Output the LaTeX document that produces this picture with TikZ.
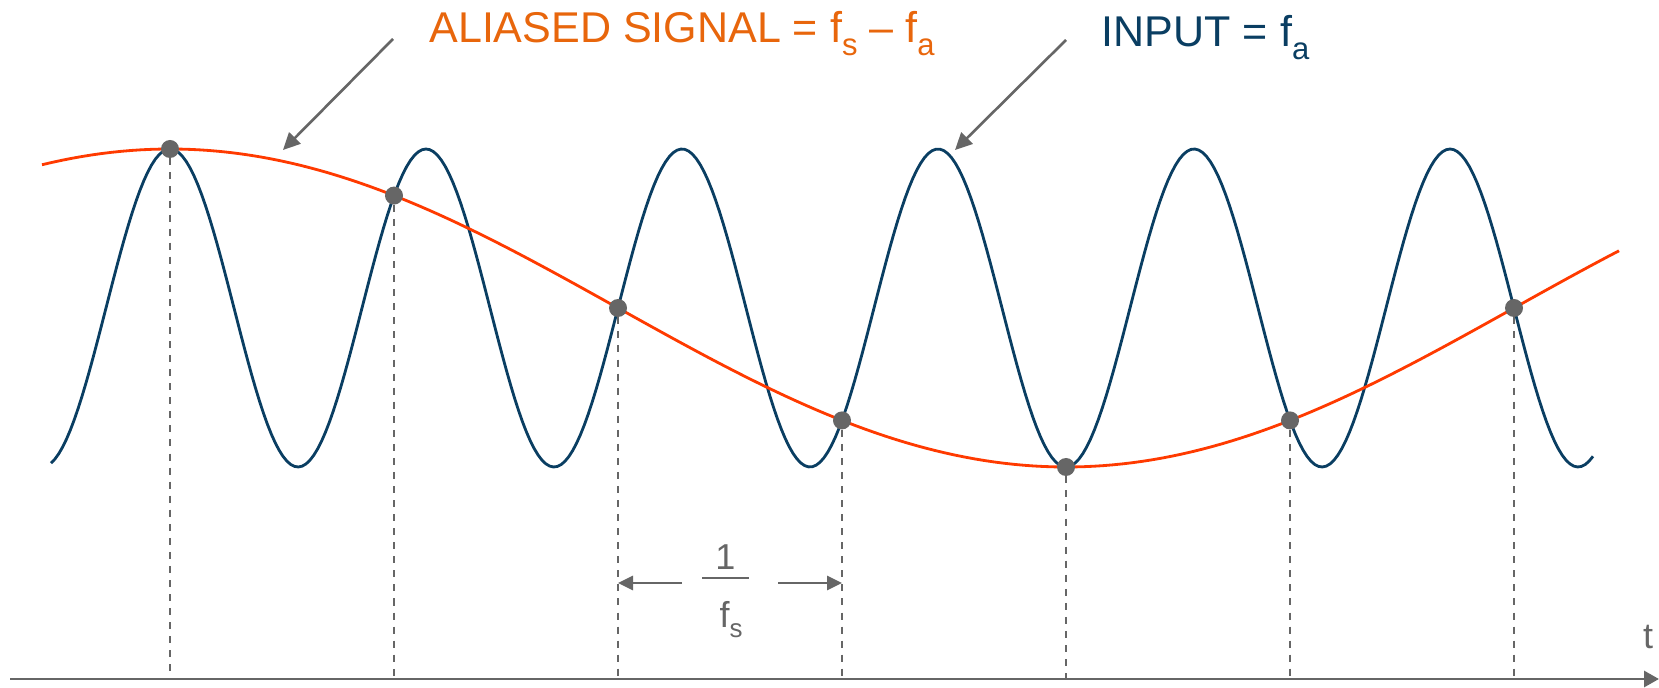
\documentclass[tikz,border=0pt]{standalone}
\usepackage{fontspec}
\setmainfont{Liberation Sans}
\usetikzlibrary{arrows.meta}
\definecolor{aliasorange}{RGB}{232,102,12}
\definecolor{aliasred}{RGB}{255,58,0}
\definecolor{inputblue}{RGB}{10,62,98}
\definecolor{markgray}{RGB}{102,102,102}
\newcommand{\lowsub}[1]{\raisebox{-0.3em}{\scalebox{0.72}{#1}}}

\begin{document}
\begin{tikzpicture}[x=0.02cm, y=-0.02cm,
  font=\fontsize{24.5}{29}\selectfont,
  wave/.style={line width=1.6pt, line join=round},
  guide/.style={markgray, line width=1.2pt, dash pattern=on 4pt off 4pt},
  sample/.style={circle, fill=markgray, inner sep=0pt, minimum size=0.36cm},
  pointer/.style={markgray, line width=1.5pt, -{Triangle[length=0.34cm, width=0.32cm]}},
  span/.style={markgray, line width=1.7pt, -{Triangle[length=0.3cm, width=0.28cm]}},
  small/.style={markgray, inner sep=0pt, font=\fontsize{20.5}{24}\selectfont}]
  \useasboundingbox (0,0) rectangle (1659,688);
  \draw[wave, inputblue] plot[domain=51:1593, samples=400] (\x, {308-159*cos(360*((\x-170)/256))});
  \draw[wave, aliasred] plot[domain=42:1619, samples=160] (\x, {308-159*cos(360*((\x-170)/1792))});
  \coordinate (axstart) at (10,679);
  \coordinate (axend) at (1659,679);
  \foreach \k in {0,...,6} {
    \node[sample] (s\k) at ({170+224*\k}, {308-159*cos(45*\k)}) {};
    \coordinate (b\k) at ({170+224*\k}, 679);
    \draw[guide] (s\k.south) -- (b\k);
  }
  \draw[markgray, line width=1.7pt, -{Triangle[length=0.3cm, width=0.32cm]}] (axstart) -- (axend);
  \node[small, anchor=base] (tlabel) at (1648,648) {t};
  \node[aliasorange, anchor=base west, inner sep=0pt] (aliastxt) at (429,42.7) {ALIASED SIGNAL = f\lowsub{s} – f\lowsub{a}};
  \node[inputblue, anchor=base west, inner sep=0pt] (inputtxt) at (1101.5,46.7) {INPUT = f\lowsub{a}};
  \coordinate (aliastail) at (393,39);
  \coordinate (aliastip) at (283,150);
  \coordinate (inputtail) at (1066,40);
  \coordinate (inputtip) at (955,150);
  \draw[pointer] (aliastail) -- (aliastip);
  \draw[pointer] (inputtail) -- (inputtip);
  \node[small, anchor=base] (num) at (725.5,570) {1};
  \node[small, anchor=base] (den) at (731,627) {f\lowsub{s}};
  \draw[markgray, line width=1.1pt] (702,578) -- (749,578);
  \coordinate (spanl) at (682,583);
  \coordinate (spanr) at (778,583);
  \draw[span] (spanl) -- (b2 |- spanl);
  \draw[span] (spanr) -- (b3 |- spanr);
\end{tikzpicture}
\end{document}
